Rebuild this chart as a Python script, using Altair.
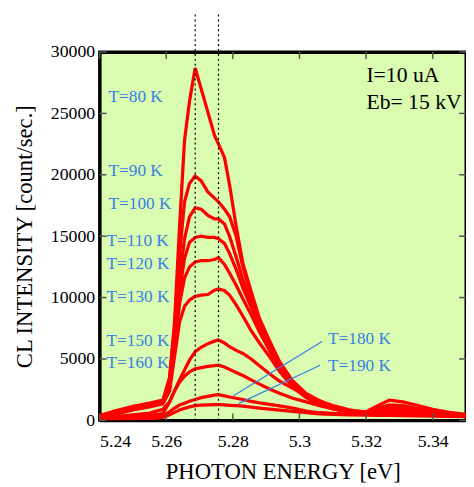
import altair as alt
import pandas as pd

# ---------------- data ----------------
energy = [5.240, 5.245, 5.250, 5.255, 5.259, 5.261, 5.2625, 5.264, 5.2655, 5.267,
          5.2687, 5.2705, 5.2725, 5.2745, 5.2757, 5.2775, 5.279, 5.281, 5.283, 5.2855,
          5.288, 5.291, 5.294, 5.298, 5.302, 5.306, 5.310, 5.315, 5.320, 5.3235,
          5.327, 5.331, 5.335, 5.340, 5.345, 5.350]

temps = ["T=80 K", "T=90 K", "T=100 K", "T=110 K", "T=120 K",
         "T=130 K", "T=150 K", "T=160 K", "T=180 K", "T=190 K"]

i80 = [400, 800, 1150, 1400, 1650, 3500, 8000, 15800, 22800, 26000,
       28700, 27000, 25100, 23200, 22500, 21400, 19200, 15800, 12800, 10500,
       8300, 6500, 4800, 3200, 2200, 1600, 1100, 800, 700, 1200,
       1650, 1500, 1250, 900, 650, 480]
i90 = [350, 700, 1050, 1300, 1550, 3300, 7500, 13500, 17800, 19300,
       19900, 19500, 18600, 18100, 17800, 17200, 16600, 15000, 12500, 10200,
       8000, 6300, 4700, 3100, 2100, 1500, 1050, 750, 650, 1000,
       1250, 1200, 1000, 800, 600, 450]
i100 = [300, 650, 1000, 1250, 1500, 3000, 7000, 11500, 14800, 16600,
        17300, 17200, 16700, 16400, 16400, 16000, 15000, 13300, 11500, 9600,
        7800, 6100, 4500, 3000, 2000, 1400, 1000, 700, 600, 850,
        1050, 1000, 900, 700, 550, 420]
i110 = [300, 600, 950, 1200, 1450, 2800, 6500, 10500, 13200, 14500,
        14900, 15000, 14900, 14900, 14800, 14400, 13600, 12300, 10800, 9200,
        7500, 5900, 4400, 2900, 1950, 1350, 950, 700, 600, 800,
        950, 950, 850, 650, 500, 400]
i120 = [250, 550, 900, 1150, 1400, 2600, 6000, 9500, 11600, 12500,
        12900, 13000, 13000, 13100, 13250, 12700, 12000, 11000, 9900, 8600,
        7200, 5700, 4300, 2850, 1900, 1300, 950, 700, 600, 750,
        900, 900, 800, 650, 500, 400]
i130 = [250, 500, 850, 1100, 1350, 2400, 5200, 8000, 9300, 9800,
        10100, 10200, 10250, 10600, 10700, 10550, 10200, 9400, 8500, 7300,
        6300, 5200, 4000, 2700, 1850, 1300, 950, 700, 600, 700,
        850, 850, 750, 600, 480, 380]
i150 = [200, 300, 450, 600, 900, 1500, 2400, 3300, 4100, 4900,
        5600, 5950, 6250, 6450, 6550, 6300, 6000, 5700, 5450, 5000,
        4450, 3800, 3200, 2600, 2050, 1600, 1200, 850, 650, 650,
        700, 700, 650, 550, 450, 380]
i160 = [150, 200, 300, 400, 550, 1500, 2400, 3100, 3600, 3950,
        4200, 4300, 4400, 4450, 4500, 4350, 4150, 3900, 3650, 3300,
        2950, 2550, 2200, 1800, 1500, 1200, 950, 750, 600, 550,
        550, 550, 500, 450, 400, 350]
i180 = [100, 120, 150, 200, 350, 700, 1000, 1250, 1400, 1550,
        1700, 1850, 1950, 2050, 2100, 2000, 1900, 1800, 1700, 1550,
        1420, 1300, 1180, 1000, 750, 620, 560, 500, 480, 470,
        460, 450, 430, 400, 370, 340]
i190 = [80, 100, 120, 150, 250, 450, 650, 850, 980, 1100,
        1200, 1250, 1270, 1280, 1290, 1260, 1230, 1200, 1150, 1080,
        1000, 920, 840, 730, 630, 530, 480, 440, 420, 410,
        400, 390, 370, 350, 320, 300]

series = [i80, i90, i100, i110, i120, i130, i150, i160, i180, i190]

x_domain = [5.24, 5.35]
y_domain = [0, 30000]
x_ticks = [5.24, 5.26, 5.28, 5.30, 5.32, 5.34]
y_ticks = [0, 5000, 10000, 15000, 20000, 25000, 30000]

# peak markers (dotted lines)
peak_E = [5.2687, 5.2757]

# temperature label anchors (energy, intensity)
label_text = temps
label_E = [5.2427, 5.2427, 5.2427, 5.2421, 5.2421, 5.2421, 5.2421, 5.2421, 5.3086, 5.3086]
label_I = [26300, 20290, 17640, 14600, 12750, 10020, 6420, 4650, 6660, 4410]

# leader lines for T=180 K / T=190 K
lead_E1 = [5.3068, 5.3062]
lead_I1 = [6416, 4491]
lead_E2 = [5.2802, 5.2817]
lead_I2 = [2005, 1363]

cond_text = ["I=10 uA", "Eb= 15 kV"]
cond_E = [5.3201, 5.3201]
cond_I = [28150, 25900]

# ---------------- tables ----------------
rows = []
for name, vals in zip(temps, series):
    for e, v in zip(energy, vals):
        rows.append({"E": e, "I": v, "T": name})
df = pd.DataFrame(rows)
peaks = pd.DataFrame({"E": peak_E})
labels = pd.DataFrame({"E": label_E, "I": label_I, "t": label_text})
leads = pd.DataFrame({"E": lead_E1, "I": lead_I1, "E2": lead_E2, "I2": lead_I2})
conds = pd.DataFrame({"E": cond_E, "I": cond_I, "t": cond_text})
xt = pd.DataFrame({"E": x_ticks})
yt = pd.DataFrame({"I": y_ticks})

FONT = "Liberation Serif"
W, H = 372, 374
TL = 7
xs = alt.Scale(domain=x_domain, nice=False, zero=False)
ys = alt.Scale(domain=y_domain, nice=False, zero=False)

frame_axis = dict(domain=True, domainColor="black", domainWidth=3, grid=False,
                  ticks=False, offset=0,
                  labelFont=FONT, labelFontSize=18, labelColor="black",
                  titleFont=FONT, titleFontSize=23, titleFontWeight="normal",
                  titleColor="black")

lines = alt.Chart(df).mark_line(color="#ff0000", strokeWidth=3.3, clip=True).encode(
    x=alt.X("E:Q", scale=xs, axis=alt.Axis(orient="bottom", values=x_ticks, format=".2~f",
                                          title="PHOTON ENERGY [eV]", labelPadding=13,
                                          titlePadding=10, **frame_axis)),
    y=alt.Y("I:Q", scale=ys, axis=alt.Axis(orient="left", values=y_ticks, format="d",
                                          title="CL INTENSITY [count/sec.]", labelPadding=5,
                                          titlePadding=14, **frame_axis)),
    detail="T:N",
)

mirror = alt.Chart(df).mark_point(opacity=0).encode(
    x=alt.X("E:Q", scale=xs, axis=alt.Axis(orient="top", values=x_ticks, labels=False,
                                          title=None, **frame_axis)),
    y=alt.Y("I:Q", scale=ys, axis=alt.Axis(orient="right", values=y_ticks, labels=False,
                                          title=None, **frame_axis)),
)

tick_style = dict(color="#555555", strokeWidth=1.5)
xt_bottom = alt.Chart(xt).mark_rule(**tick_style).encode(
    x=alt.X("E:Q", scale=xs, axis=None), y=alt.value(H), y2=alt.value(H - TL))
xt_top = alt.Chart(xt).mark_rule(**tick_style).encode(
    x=alt.X("E:Q", scale=xs, axis=None), y=alt.value(0), y2=alt.value(TL))
yt_left = alt.Chart(yt).mark_rule(**tick_style).encode(
    y=alt.Y("I:Q", scale=ys, axis=None), x=alt.value(0), x2=alt.value(TL))
yt_right = alt.Chart(yt).mark_rule(**tick_style).encode(
    y=alt.Y("I:Q", scale=ys, axis=None), x=alt.value(W), x2=alt.value(W - TL))

dots = alt.Chart(peaks).mark_rule(color="black", strokeWidth=1.2, strokeDash=[2, 3]).encode(
    x=alt.X("E:Q", scale=xs, axis=None),
    y=alt.value(-38),
    y2=alt.value(H),
)

leaders = alt.Chart(leads).mark_rule(color="#3a80e6", strokeWidth=1.2).encode(
    x=alt.X("E:Q", scale=xs, axis=None),
    y=alt.Y("I:Q", scale=ys, axis=None),
    x2="E2:Q",
    y2="I2:Q",
)

tlabels = alt.Chart(labels).mark_text(align="left", baseline="middle", font=FONT,
                                      fontSize=17.5, color="#3a80e6").encode(
    x=alt.X("E:Q", scale=xs, axis=None),
    y=alt.Y("I:Q", scale=ys, axis=None),
    text="t:N",
)

ctext = alt.Chart(conds).mark_text(align="left", baseline="middle", font=FONT,
                                   fontSize=22, color="black").encode(
    x=alt.X("E:Q", scale=xs, axis=None),
    y=alt.Y("I:Q", scale=ys, axis=None),
    text="t:N",
)

chart = alt.layer(lines, mirror, xt_bottom, xt_top, yt_left, yt_right,
                  dots, leaders, tlabels, ctext).resolve_axis(
    x="independent", y="independent"
).properties(
    width=W, height=H,
    background="white",
    autosize=alt.AutoSizeParams(type="none"),
    padding={"left": 93, "top": 41, "right": 0, "bottom": 64},
).configure_view(
    fill="#d9fcb0", stroke="#000000", strokeWidth=3
)

chart.save("out.html", embed_options={"renderer": "svg", "actions": False})
